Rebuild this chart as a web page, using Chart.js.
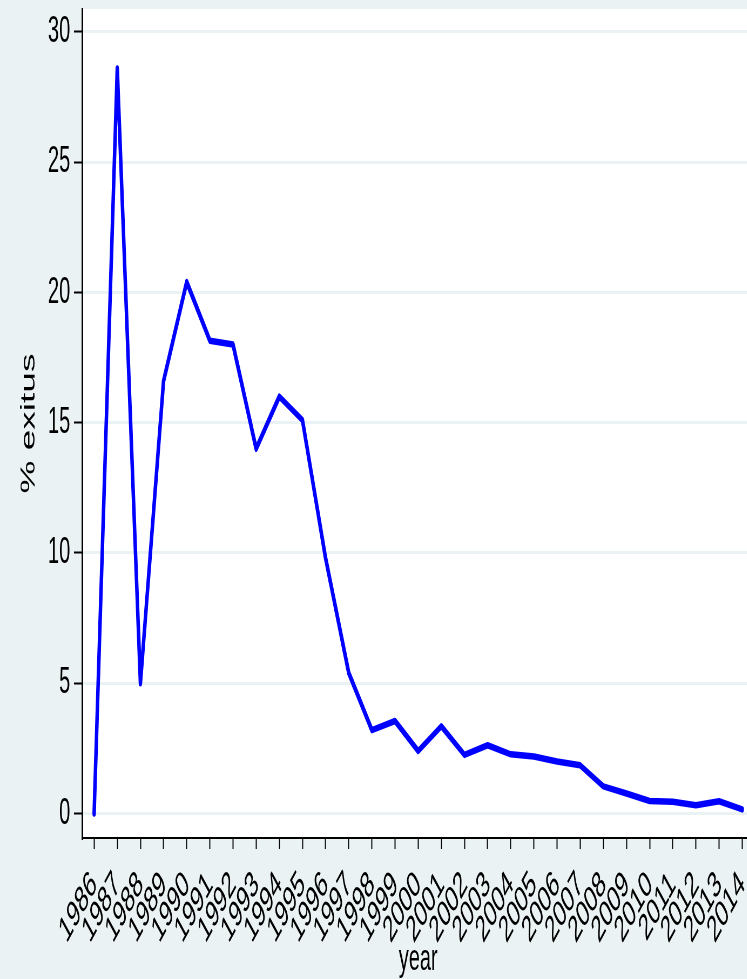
<!DOCTYPE html>
<html>
<head>
<meta charset="utf-8">
<script src="https://cdn.jsdelivr.net/npm/chart.js@4/dist/chart.umd.min.js"></script>
<style>
    html, body { margin: 0; padding: 0; overflow: hidden; background: #eaf2f3; }
    #wrap {
        position: absolute; left: 0; top: 0;
        width: 1400px; height: 979px;
        transform: scaleX(0.54); transform-origin: 0 0;
    }
</style>
</head>
<body>
<div id="wrap"><canvas id="exitusChart"></canvas></div>
<script>
// data
const years = [1986, 1987, 1988, 1989, 1990, 1991, 1992, 1993, 1994, 1995,
    1996, 1997, 1998, 1999, 2000, 2001, 2002, 2003, 2004, 2005,
    2006, 2007, 2008, 2009, 2010, 2011, 2012, 2013, 2014];
const exitus = [0, 28.6, 5.0, 16.6, 20.4, 18.15, 18.0, 14.0, 16.0, 15.1,
    9.8, 5.4, 3.2, 3.55, 2.4, 3.35, 2.25, 2.62, 2.27, 2.19,
    2.0, 1.85, 1.04, 0.77, 0.48, 0.45, 0.32, 0.47, 0.16];
const yTicks = [0, 5, 10, 15, 20, 25, 30];

const bgColor = '#eaf2f3';
const textFont = { family: "'Liberation Sans', Arial, sans-serif", size: 37 };

const plotBackground = {
    id: 'plotBackground',
    beforeDraw(chart) {
        const { ctx, chartArea } = chart;
        ctx.save();
        ctx.fillStyle = '#ffffff';
        ctx.fillRect(chartArea.left, chartArea.top, chartArea.right - chartArea.left, chartArea.bottom - chartArea.top);
        ctx.restore();
    }
};

const ctx = document.getElementById('exitusChart').getContext('2d');
new Chart(ctx, {
    type: 'line',
    data: {
        datasets: [{
            label: '% exitus',
            data: years.map((y, i) => ({ x: y, y: exitus[i] })),
            borderColor: '#0000ff',
            borderWidth: 6.5,
            borderJoinStyle: 'round',
            borderCapStyle: 'round',
            pointRadius: 0,
            tension: 0,
            fill: false
        }]
    },
    options: {
        responsive: true,
        maintainAspectRatio: false,
        animation: false,
        layout: { padding: { top: 9, left: 0, right: 2, bottom: 0 } },
        plugins: {
            legend: { display: false },
            tooltip: { enabled: false }
        },
        scales: {
            x: {
                type: 'linear',
                min: 1985.48,
                max: 2014.52,
                afterFit: scale => {
                    scale.height = 141;
                    scale.paddingLeft = 0;
                    scale.paddingRight = 0;
                },
                afterBuildTicks: scale => {
                    scale.ticks = years.map(v => ({ value: v }));
                },
                ticks: {
                    callback: v => String(v),
                    minRotation: 45,
                    maxRotation: 45,
                    autoSkip: false,
                    padding: 14,
                    color: '#000',
                    font: textFont
                },
                grid: {
                    drawOnChartArea: false,
                    tickLength: 11,
                    tickColor: '#000',
                    tickWidth: 2
                },
                border: { display: true, color: '#000', width: 2 },
                title: {
                    display: true,
                    text: 'year',
                    color: '#000',
                    font: textFont,
                    padding: { top: 0, bottom: -3 }
                }
            },
            y: {
                min: -0.94,
                max: 30.88,
                afterFit: scale => {
                    scale.width = 152;
                    scale.paddingTop = 0;
                    scale.paddingBottom = 0;
                },
                afterBuildTicks: scale => {
                    scale.ticks = yTicks.map(v => ({ value: v }));
                },
                ticks: {
                    padding: 7,
                    color: '#000',
                    font: textFont
                },
                grid: {
                    color: bgColor,
                    lineWidth: 3,
                    tickLength: 15,
                    tickColor: '#000',
                    tickWidth: 2
                },
                border: { display: true, color: '#000', width: 3 },
                title: {
                    display: true,
                    text: '% exitus',
                    color: '#000',
                    font: textFont,
                    padding: { top: 32, bottom: 0 }
                }
            }
        }
    },
    plugins: [plotBackground]
});
</script>
</body>
</html>
